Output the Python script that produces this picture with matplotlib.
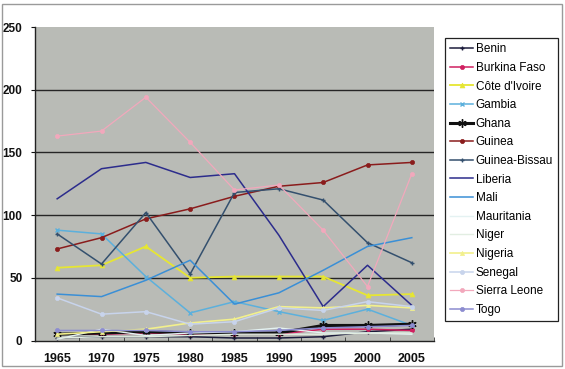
import matplotlib
matplotlib.use("Agg")
import matplotlib.pyplot as plt
from matplotlib.patches import Rectangle
import numpy as np

years = [1965, 1970, 1975, 1980, 1985, 1990, 1995, 2000, 2005]

countries = ["Benin", "Burkina Faso", "Côte d'Ivoire", "Gambia", "Ghana", "Guinea",
             "Guinea-Bissau", "Liberia", "Mali", "Mauritania", "Niger", "Nigeria",
             "Senegal", "Sierra Leone", "Togo"]

benin = [2, 3, 3, 3, 2, 2, 3, 7, 9]
burkina_faso = [5, 5, 6, 5, 5, 5, 9, 9, 8]
cote_divoire = [58, 60, 75, 50, 51, 51, 51, 36, 37]
gambia = [88, 85, 51, 22, 31, 23, 16, 25, 12]
ghana = [5, 6, 7, 6, 6, 6, 12, 12, 13]
guinea = [73, 82, 97, 105, 115, 123, 126, 140, 142]
guinea_bissau = [85, 61, 102, 53, 118, 121, 112, 78, 62]
liberia = [113, 137, 142, 130, 133, 84, 27, 60, 28]
mali = [37, 35, 48, 64, 29, 38, 56, 75, 82]
mauritania = [1, 9, 4, 6, 7, 10, 6, 6, 5]
niger = [2, 3, 3, 4, 5, 5, 5, 6, 6]
nigeria = [5, 7, 9, 14, 17, 27, 26, 28, 26]
senegal = [34, 21, 23, 13, 15, 26, 24, 31, 27]
sierra_leone = [163, 167, 194, 158, 120, 124, 88, 43, 133]
togo = [8, 8, 8, 7, 7, 8, 10, 11, 12]

series = [benin, burkina_faso, cote_divoire, gambia, ghana, guinea, guinea_bissau,
          liberia, mali, mauritania, niger, nigeria, senegal, sierra_leone, togo]

colors = ["#1c1c3c", "#d02060", "#e6e632", "#5cb0dc", "#111111", "#8a1c1c",
          "#34506e", "#2c2c8c", "#3a8fd6", "#e4f2f2", "#e2eee2", "#f2f08c",
          "#c8d4ec", "#f2a8bc", "#8c8cd0"]
markers = ["+", "o", "^", "x", (6, 2, 0), "o", "+", "", "", "", "", "^", "o", "o", "o"]
lws = [1.1, 1.1, 1.3, 1.1, 2.2, 1.1, 1.1, 1.1, 1.1, 1.0, 1.0, 1.2, 1.1, 0.9, 1.1]
msizes = [3.5, 3, 3.5, 3.5, 6, 3, 3.5, 0, 0, 2, 2, 3, 3, 3, 3]

fig = plt.figure(figsize=(5.65, 3.69), dpi=100)
fig.patch.set_facecolor("white")
fig.add_artist(Rectangle((2 / 565, 3 / 369), 560 / 565, 362 / 369, transform=fig.transFigure,
                         fill=False, edgecolor="#9a9a9a", lw=1.0))

ax = fig.add_axes([35 / 565, 1 - 340.5 / 369, 399 / 565, 313.5 / 369])
ax.set_facecolor("#b9bbb6")

x = np.arange(len(years))
for name, vals, c, m, lw, ms in zip(countries, series, colors, markers, lws, msizes):
    ax.plot(x, vals, color=c, marker=m if m else None, lw=lw, markersize=ms,
            markeredgewidth=1.0 if m in ("+", "x", (6, 2, 0)) else 0.5, label=name, zorder=3)

ax.set_xlim(-0.5, len(years) - 0.5)
ax.set_ylim(0, 250)
ax.set_yticks([0, 50, 100, 150, 200, 250])
for yv in [50, 100, 150, 200]:
    ax.axhline(yv, color="#262626", lw=1.0, zorder=1)

xfont = dict(family=["Liberation Sans", "DejaVu Sans"], weight="bold", size=9)
yfont = dict(family=["Liberation Sans", "DejaVu Sans"], weight="bold", size=8.5)
ax.set_xticks(x)
ax.set_xticklabels([str(y) for y in years], **xfont)
ax.set_yticklabels(["0", "50", "100", "150", "200", "250"], **yfont)
ax.set_xticks(np.arange(-0.5, len(years), 1.0), minor=True)
ax.tick_params(axis="x", which="major", length=0, pad=9, colors="#111111")
ax.tick_params(axis="x", which="minor", length=3, direction="in", color="#333333")
ax.tick_params(axis="y", length=3, direction="out", pad=6, colors="#111111")

for s in ["top", "right"]:
    ax.spines[s].set_visible(False)
ax.spines["left"].set_color("#222222")
ax.spines["bottom"].set_color("#222222")
ax.spines["left"].set_linewidth(1.0)
ax.spines["bottom"].set_linewidth(1.0)

leg = fig.legend(loc="upper left", bbox_to_anchor=(445 / 565, 1 - 38 / 369),
                 frameon=True, fancybox=False, edgecolor="#222222", framealpha=1,
                 prop=dict(family=["Liberation Sans", "DejaVu Sans"], size=8.5),
                 handlelength=1.9, handletextpad=0.25, labelspacing=0.56,
                 borderpad=0.45, borderaxespad=0)
leg.get_frame().set_linewidth(0.9)

fig.savefig("out.png", dpi=100)
